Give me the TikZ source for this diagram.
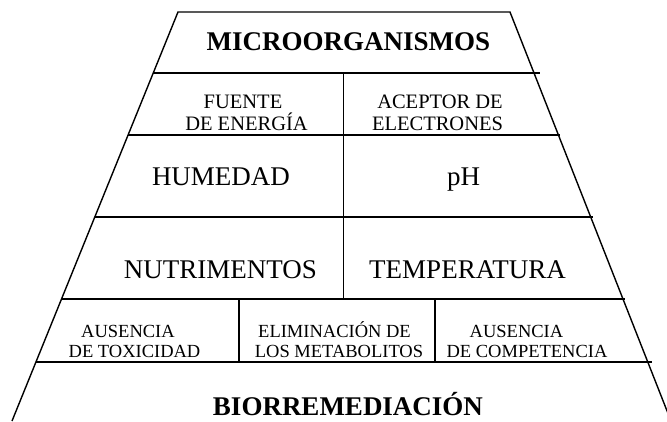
\documentclass[tikz,border=0pt]{standalone}
\usepackage{fontspec}
\setmainfont{Liberation Serif}
\begin{document}
\begin{tikzpicture}[x=1pt,y=-1pt,line width=1.4pt,
  bigtxt/.style={font=\fontsize{27}{30}\selectfont\bfseries,anchor=base,inner sep=0pt},
  midtxt/.style={font=\fontsize{27}{30}\selectfont,anchor=base,inner sep=0pt},
  smtxt/.style={font=\fontsize{20.5}{22}\selectfont,anchor=base,inner sep=0pt},
  xstxt/.style={font=\fontsize{18.5}{22}\selectfont,anchor=base,inner sep=0pt}]
\useasboundingbox (0,0) rectangle (667,421);
\clip (0,0) rectangle (667,421);
% outline of the pyramid
\coordinate (TL) at (178,12);
\coordinate (TR) at (510,12);
\coordinate (BL) at (12,421);
\coordinate (BR) at (671,421);
\draw (BL) -- (TL) -- (TR) -- (BR);
% horizontal rules
\coordinate (h1l) at (153.2,73);  \coordinate (h1r) at (540,73);
\coordinate (h2l) at (128.1,135); \coordinate (h2r) at (560,135);
\coordinate (h3l) at (94.8,217);  \coordinate (h3r) at (593,217);
\coordinate (h4l) at (61.5,299);  \coordinate (h4r) at (625,299);
\coordinate (h5l) at (36,362);    \coordinate (h5r) at (652,362);
\draw (h1l) -- (h1r);
\draw (h2l) -- (h2r);
\draw (h3l) -- (h3r);
\draw (h4l) -- (h4r);
\draw (h5l) -- (h5r);
% vertical dividers
\coordinate (v1t) at (343.5,73); \coordinate (v1b) at (343.5,299);
\coordinate (v2t) at (239,299);  \coordinate (v2b) at (239,362);
\coordinate (v3t) at (435,299);  \coordinate (v3b) at (435,362);
\draw (v1t) -- (v1b);
\draw (v2t) -- (v2b);
\draw (v3t) -- (v3b);
% texts
\node[bigtxt] (micro) at (348.5,50) {MICROORGANISMOS};
\node[smtxt] (fuenteA) at (243,108) {FUENTE};
\node[smtxt] (fuenteB) at (246.5,130) {DE ENERGÍA};
\node[smtxt] (aceptA) at (440,108) {ACEPTOR DE};
\node[smtxt] (aceptB) at (437.5,130) {ELECTRONES};
\node[midtxt] (humedad) at (221,185) {HUMEDAD};
\node[midtxt] (ph) at (463.5,185) {pH};
\node[midtxt] (nutri) at (220.5,278) {NUTRIMENTOS};
\node[midtxt] (temp) at (467.5,278) {TEMPERATURA};
\node[xstxt] (toxA) at (128,337) {AUSENCIA};
\node[xstxt] (toxB) at (134.5,357) {DE TOXICIDAD};
\node[xstxt] (elimA) at (334.5,337) {ELIMINACIÓN DE};
\node[xstxt] (elimB) at (339,357) {LOS METABOLITOS};
\node[xstxt] (compA) at (516.5,337) {AUSENCIA};
\node[xstxt] (compB) at (527,357) {DE COMPETENCIA};
\node[bigtxt] (bio) at (348,415) {BIORREMEDIACIÓN};
\end{tikzpicture}
\end{document}
